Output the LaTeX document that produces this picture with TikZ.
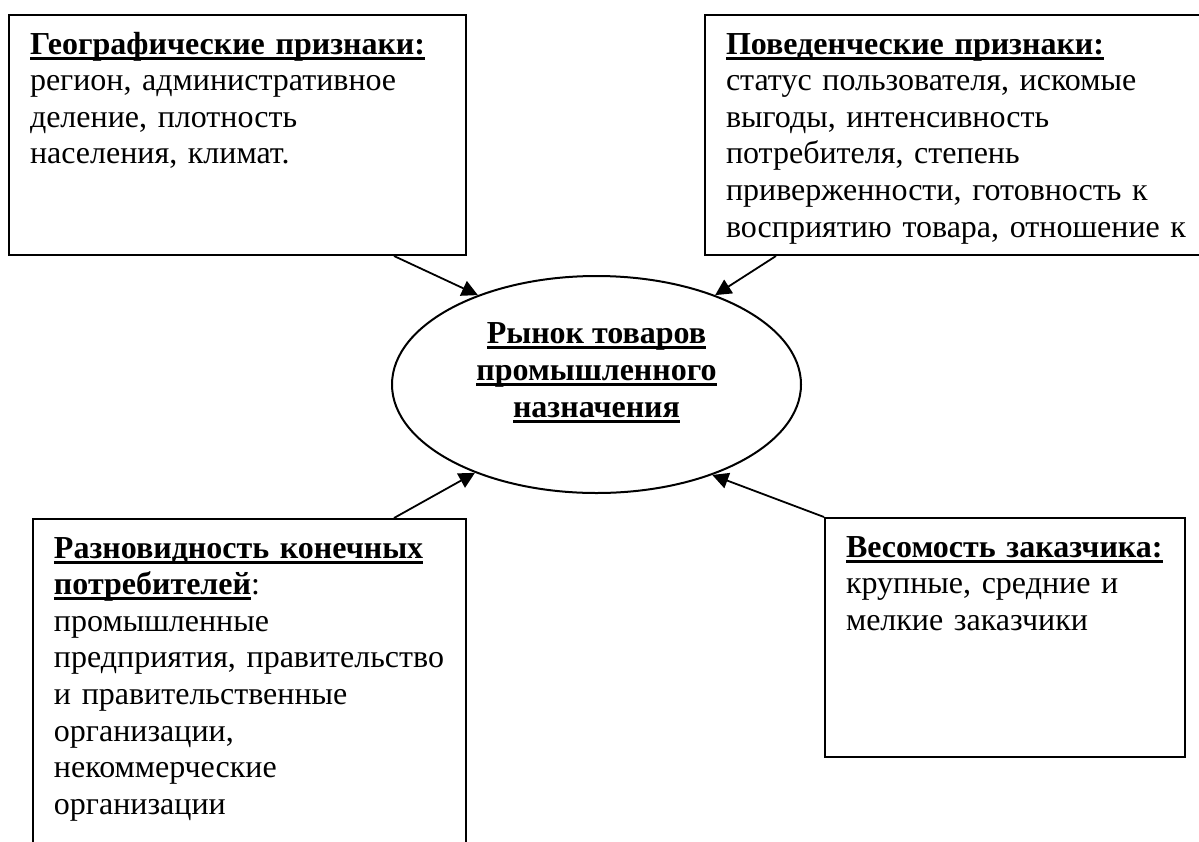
\documentclass[tikz,border=0pt]{standalone}
\usepackage{fontspec}
\setmainfont{Liberation Serif}
\usetikzlibrary{positioning,shapes.geometric,arrows.meta}
\newsavebox{\headbox}
\newcommand{\uhead}[1]{\leavevmode\sbox{\headbox}{\textbf{#1}}\rlap{\rule[-2.8pt]{\wd\headbox}{1.5pt}}\usebox{\headbox}}
\tikzset{
	card/.style={draw, black, line width=1pt, anchor=north west, inner xsep=10.5pt, inner ysep=0pt,
		align=left, text height=19.5pt, font=\fontsize{16pt}{18.3pt}\selectfont},
	hub/.style={draw, black, ellipse, line width=1pt, minimum width=204.5pt, minimum height=108.5pt,
		inner sep=0pt, align=center, text height=50pt, text depth=17.5pt,
		font=\fontsize{16pt}{18.3pt}\selectfont},
	feed/.style={draw, black, line width=0.9pt, -{Triangle[length=8pt,width=8pt]}}
}
\begin{document}
\begin{tikzpicture}[x=0.5pt,y=-0.5pt]
		\clip (0,0) rectangle (1199,841);
		\fill [white] (0,0) rectangle (1199,841);
		\node [card, text width=207.5pt, text depth=100.5pt] (geo) at (8,14)
			{\uhead{Географические признаки:}\\регион, административное\\деление, плотность\\населения, климат.};
		\node [card, text width=240pt, text depth=100.5pt] (behav) at (704,14)
			{\uhead{Поведенческие признаки:}\\статус пользователя, искомые\\выгоды, интенсивность\\потребителя, степень\\приверженности, готовность к\\восприятию товара, отношение к};
		\node [card, text width=195.5pt, text depth=160pt] (cons) at (32,518)
			{\uhead{Разновидность конечных}\\\uhead{потребителей}:\\промышленные\\предприятия, правительство\\и правительственные\\организации,\\некоммерческие\\организации};
		\node [card, text width=159pt, text depth=100pt] (weight) at (824,517)
			{\uhead{Весомость заказчика:}\\крупные, средние и\\мелкие заказчики};
		\node [hub] (market) at (596.5,384.5)
			{\uhead{Рынок товаров}\\\uhead{промышленного}\\\uhead{назначения}};
		\draw [feed] ([xshift=-36.5pt]geo.south east) -- (market.143.6);
		\draw [feed] ([xshift=36pt]behav.south west) -- (market.37.3);
		\draw [feed] ([xshift=-36.5pt]cons.north east) -- (market.216.3);
		\draw [feed] (weight.north west) -- (market.322.8);
\end{tikzpicture}
\end{document}
